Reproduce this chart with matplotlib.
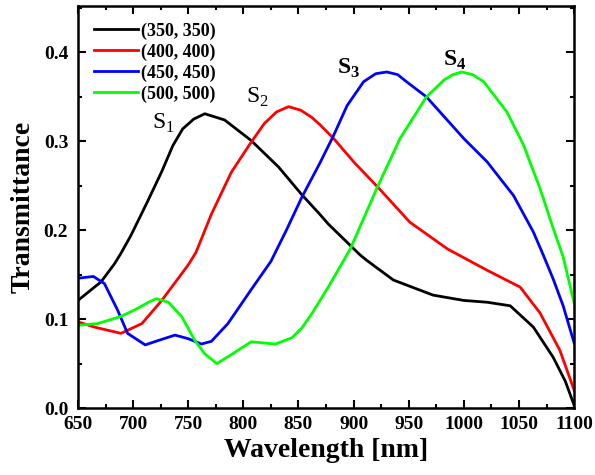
import matplotlib.pyplot as plt
from matplotlib.ticker import MultipleLocator

# === DATA ===
wl_350 = [650, 671, 683, 689, 698, 713, 726, 736, 745, 755, 765, 783, 807, 832, 853, 870, 877, 906,
          912, 936, 972, 1000, 1021, 1042, 1063, 1081, 1092, 1100]
t_350 = [0.121, 0.142, 0.162, 0.174, 0.194, 0.232, 0.266, 0.295, 0.314, 0.325, 0.331, 0.324, 0.301,
         0.271, 0.240, 0.217, 0.207, 0.172, 0.166, 0.144, 0.127, 0.121, 0.119, 0.115, 0.091, 0.057,
         0.030, 0.003]

wl_400 = [650, 665, 689, 708, 726, 741, 750, 757, 771, 789, 806, 819, 830, 841, 852, 862, 870, 882,
          900, 923, 951, 985, 1000, 1021, 1051, 1069, 1087, 1100]
t_400 = [0.097, 0.091, 0.084, 0.095, 0.121, 0.146, 0.161, 0.175, 0.218, 0.265, 0.297, 0.320, 0.333,
         0.339, 0.335, 0.327, 0.318, 0.303, 0.277, 0.247, 0.209, 0.179, 0.169, 0.155, 0.136, 0.107,
         0.065, 0.020]

wl_450 = [650, 664, 674, 686, 695, 711, 723, 738, 750, 762, 771, 786, 807, 825, 839, 853, 870, 882,
          894, 909, 920, 930, 940, 948, 966, 1000, 1021, 1045, 1063, 1072, 1081, 1090, 1100]
t_450 = [0.146, 0.148, 0.140, 0.110, 0.084, 0.071, 0.076, 0.082, 0.078, 0.072, 0.075, 0.095, 0.133,
         0.165, 0.200, 0.237, 0.277, 0.307, 0.340, 0.367, 0.376, 0.378, 0.375, 0.367, 0.350, 0.303,
         0.277, 0.239, 0.198, 0.172, 0.145, 0.115, 0.073]

wl_500 = [650, 668, 689, 704, 714, 721, 732, 744, 756, 765, 776, 789, 807, 829, 844, 853, 862, 877,
          897, 921, 942, 966, 982, 990, 998, 1008, 1018, 1039, 1054, 1069, 1081, 1090, 1100]
t_500 = [0.093, 0.095, 0.103, 0.112, 0.119, 0.123, 0.119, 0.103, 0.076, 0.061, 0.050, 0.060, 0.0745,
         0.072, 0.079, 0.090, 0.106, 0.136, 0.179, 0.247, 0.303, 0.350, 0.369, 0.375, 0.378, 0.375,
         0.367, 0.333, 0.296, 0.247, 0.202, 0.170, 0.118]

labels = ["(350, 350)", "(400, 400)", "(450, 450)", "(500, 500)"]
colors = ["black", "#ff0000", "#0000ff", "#00ff00"]

peak_names = [r"$\mathrm{S}_\mathrm{1}$", r"$\mathrm{S}_\mathrm{2}$",
              r"$\mathbf{S}_\mathbf{3}$", r"$\mathbf{S}_\mathbf{4}$"]
peak_x = [727, 813, 895, 992]
peak_y = [0.320, 0.349, 0.382, 0.391]

# === PLOT ===
plt.rcParams["font.family"] = "Liberation Serif"
plt.rcParams["mathtext.fontset"] = "custom"
plt.rcParams["mathtext.rm"] = "Liberation Serif"
plt.rcParams["mathtext.bf"] = "Liberation Serif:bold"

fig = plt.figure(figsize=(5.95, 4.75), dpi=100)
ax = fig.add_axes([0.131, 0.141, 0.834, 0.846])

series = [(wl_350, t_350), (wl_400, t_400), (wl_450, t_450), (wl_500, t_500)]
for (x, y), lab, c in zip(series, labels, colors):
    ax.plot(x, y, color=c, linewidth=2, label=lab)

for name, x, y in zip(peak_names, peak_x, peak_y):
    ax.text(x, y, name, fontsize=17, ha="center", va="center")

ax.set_xlim(650, 1100)
ax.set_ylim(0, 0.452)
ax.xaxis.set_major_locator(MultipleLocator(50))
ax.xaxis.set_minor_locator(MultipleLocator(25))
ax.yaxis.set_major_locator(MultipleLocator(0.1))
ax.yaxis.set_minor_locator(MultipleLocator(0.05))
ax.tick_params(which="both", direction="in", top=True, right=True, width=1.5)
ax.tick_params(which="major", length=6, labelsize=14)
ax.tick_params(which="minor", length=3)
ax.tick_params(axis="y", pad=7)
ax.tick_params(axis="x", pad=6)
for lab in ax.get_xticklabels() + ax.get_yticklabels():
    lab.set_fontweight("bold")
for sp in ax.spines.values():
    sp.set_linewidth(1.8)

ax.set_xlabel("Wavelength [nm]", fontsize=20, fontweight="bold", labelpad=3)
ax.set_ylabel("Transmittance", fontsize=20, fontweight="bold", labelpad=6)

ax.legend(loc="upper left", frameon=False, prop={"weight": "bold", "size": 13},
          handlelength=2.4, handletextpad=0.2, labelspacing=0.2,
          borderaxespad=0.5)

fig.savefig("out.png", dpi=100)
plt.close(fig)
